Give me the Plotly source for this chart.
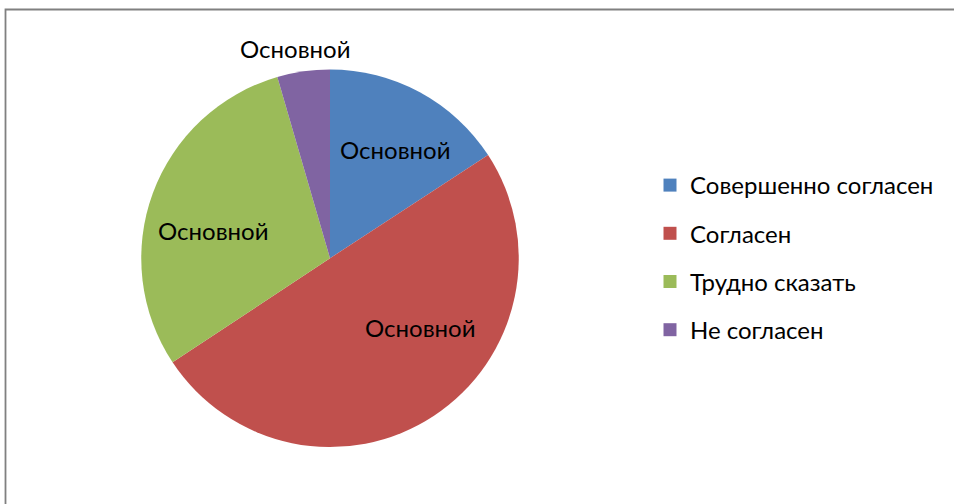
import plotly.graph_objects as go

categories = ["Совершенно согласен", "Согласен", "Трудно сказать", "Не согласен"]
values = [15.8, 49.9, 29.8, 4.5]
slice_labels = ["Основной", "Основной", "Основной", "Основной"]
colors = ["#4F81BD", "#C0504D", "#9BBB59", "#8064A2"]

W, H = 954, 504
FONT = "Lato, 'Open Sans', sans-serif"

# data-label anchor positions (pixels) as placed in the original chart
label_px = [(395, 149), (420, 327), (213, 231), (295, 48)]

fig = go.Figure()
fig.add_trace(go.Pie(
    labels=categories,
    values=values,
    textinfo="none",
    marker=dict(colors=colors, line=dict(width=0)),
    sort=False,
    direction="clockwise",
    rotation=0,
    showlegend=False,
    hoverinfo="label+percent",
    domain=dict(x=[141/W, 519/W], y=[1-447/H, 1-69.5/H]),
))

for i, (cat, col) in enumerate(zip(categories, colors)):
    fig.add_trace(go.Scatter(
        x=[None], y=[None], mode="markers", name=cat,
        marker=dict(symbol="square", size=13, color=col),
        legendgroup=f"g{i}", showlegend=True,
    ))

annotations = [
    dict(text=t, x=px/W, y=1-py/H, xref="paper", yref="paper",
         showarrow=False, xanchor="center", yanchor="middle",
         font=dict(family=FONT, size=24, color="black"))
    for t, (px, py) in zip(slice_labels, label_px)
]

fig.update_layout(
    width=W, height=H,
    margin=dict(l=0, r=0, t=0, b=0),
    paper_bgcolor="white", plot_bgcolor="white",
    xaxis=dict(visible=False), yaxis=dict(visible=False),
    font=dict(family=FONT, size=24, color="black"),
    legend=dict(
        x=650/W, xanchor="left", y=1-163/H, yanchor="top",
        tracegroupgap=14, font=dict(family=FONT, size=24, color="black"),
        bgcolor="rgba(0,0,0,0)", itemwidth=30,
    ),
    annotations=annotations,
    shapes=[dict(type="rect", xref="paper", yref="paper",
                 x0=5.5/W, x1=1.05, y0=-0.05, y1=1-9.5/H,
                 line=dict(color="#808080", width=1.8), layer="above")],
)

fig.write_html(
    "out.html",
    config={"displayModeBar": False},
    post_script="document.body.style.margin='0';document.body.style.overflow='hidden';",
)
